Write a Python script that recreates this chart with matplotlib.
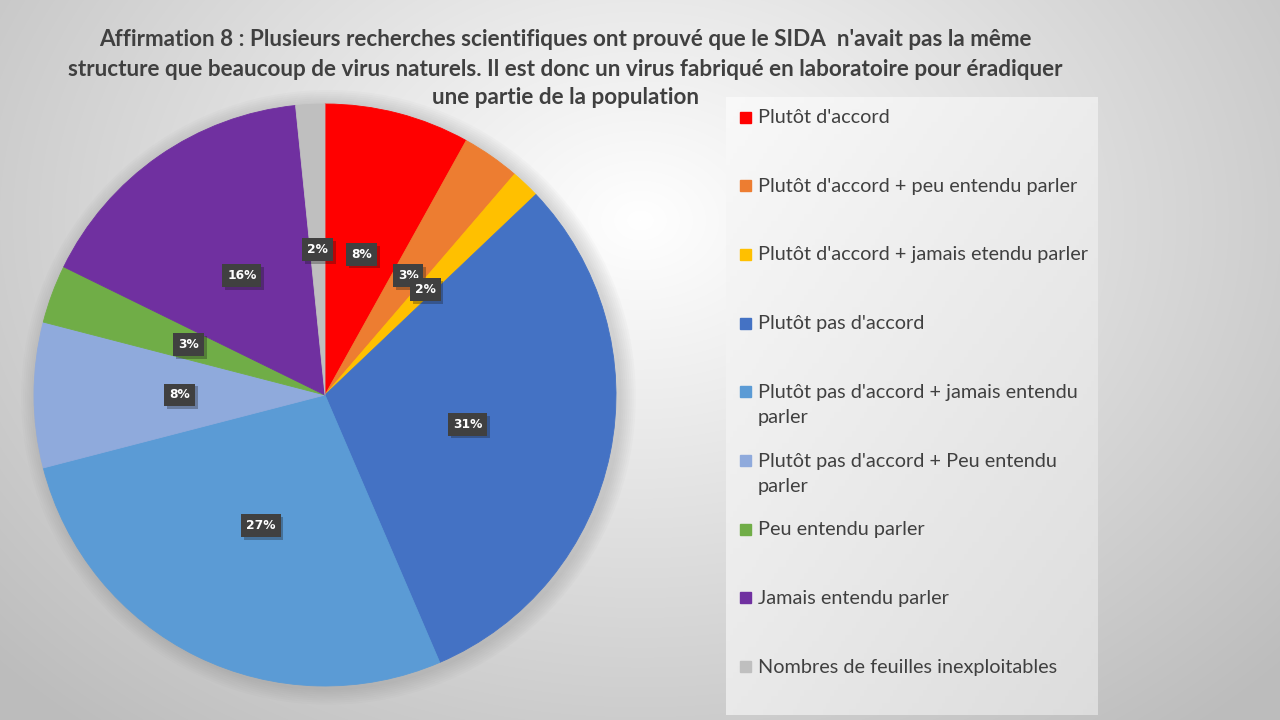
import matplotlib.pyplot as plt
import matplotlib.patheffects as pe
import numpy as np
from matplotlib.patches import Circle, Rectangle

# données (nombre de réponses)
LABELS = [
    "Plutôt d'accord",
    "Plutôt d'accord + peu entendu parler",
    "Plutôt d'accord + jamais etendu parler",
    "Plutôt pas d'accord",
    "Plutôt pas d'accord + jamais entendu\nparler",
    "Plutôt pas d'accord + Peu entendu\nparler",
    "Peu entendu parler",
    "Jamais entendu parler",
    "Nombres de feuilles inexploitables",
]
COUNTS = [5, 2, 1, 19, 17, 5, 2, 10, 1]
COLORS = ["#FF0000", "#ED7D31", "#FFC000", "#4472C4", "#5B9BD5",
          "#8FAADC", "#70AD47", "#7030A0", "#BFBFBF"]

TITLE = ["Affirmation 8 : Plusieurs recherches scientifiques ont prouvé que le SIDA  n'avait pas la même",
         "structure que beaucoup de virus naturels. Il est donc un virus fabriqué en laboratoire pour éradiquer",
         "une partie de la population"]

W, H = 1280, 720
fig = plt.figure(figsize=(W / 100, H / 100), dpi=100)

# fond en dégradé radial
bg = fig.add_axes([0, 0, 1, 1])
yy, xx = np.mgrid[0:H, 0:W]
d = np.sqrt(((xx - 640) / 1000) ** 2 + ((yy - 220) / 760) ** 2)
shade = np.clip(1.0 - 0.30 * d, 0.74, 1.0)
bg.imshow(np.dstack([shade] * 3), extent=[0, W, H, 0], aspect="auto")

# cadre de la légende
lx0, lx1, ly0, ly1 = 726, 1098, 97, 715
ly, lx = np.mgrid[0:100, 0:100] / 99.0
lshade = 0.975 - 0.11 * (0.45 * lx + 0.55 * ly)
bg.imshow(np.dstack([lshade] * 3), extent=[lx0, lx1, ly1, ly0], aspect="auto", zorder=1)
bg.set_xlim(0, W)
bg.set_ylim(H, 0)
bg.axis("off")

# légende (entrées dessinées une par une)
slot0, step = 117, 68.7
for i, (lab, col) in enumerate(zip(LABELS, COLORS)):
    y = slot0 + i * step
    bg.add_patch(Rectangle((740, y - 5.5), 11, 11, color=col, zorder=3))
    bg.text(758, y - 8, lab, fontsize=14.3, family=["Lato", "DejaVu Sans"], color="#404040",
            va="top", ha="left", linespacing=1.62, zorder=3)

# titre : une ligne par texte, taille ajustée sur la largeur de la 2e ligne
title_y = [39, 69, 98]
renderer = fig.canvas.get_renderer()
probe = fig.text(0, 0, TITLE[1], fontsize=16, fontweight="bold", family=["Lato", "DejaVu Sans"])
tw = probe.get_window_extent(renderer).width
probe.remove()
tsize = 16 * 1000 / tw
for line, y in zip(TITLE, title_y):
    fig.text(565 / W, 1 - y / H, line, ha="center", va="center", fontsize=tsize,
             fontweight="bold", family=["Lato", "DejaVu Sans"], color="#404040")

# camembert
R, cx, cy = 291, 325, 395
ax = fig.add_axes([(cx - R) / W, (H - cy - R) / H, 2 * R / W, 2 * R / H])
for k in range(8):
    ax.add_patch(Circle((0.012, -0.008), 1.0 + 0.007 * (8 - k), color="#707070",
                        alpha=0.03, lw=0, zorder=0, clip_on=False))

wedges, texts, autotexts = ax.pie(
    COUNTS, colors=COLORS, startangle=90, counterclock=False,
    autopct=lambda p: f"{round(p)}%", pctdistance=0.5,
    wedgeprops=dict(linewidth=0.6, antialiased=True),
)
for w, c in zip(wedges, COLORS):
    w.set_edgecolor(c)
    w.set_zorder(2)
for t in autotexts:
    t.set_color("white")
    t.set_fontsize(8.8)
    t.set_fontweight("bold")
    t.set_zorder(4)
    t.set_bbox(dict(boxstyle="square,pad=0.4", fc="#404040", ec="none"))
    t.get_bbox_patch().set_path_effects(
        [pe.SimplePatchShadow(offset=(2, -2), alpha=0.3), pe.Normal()])
ax.set_xlim(-1, 1)
ax.set_ylim(-1, 1)
ax.set_aspect("equal")
ax.axis("off")

fig.savefig("out.png", dpi=100)
